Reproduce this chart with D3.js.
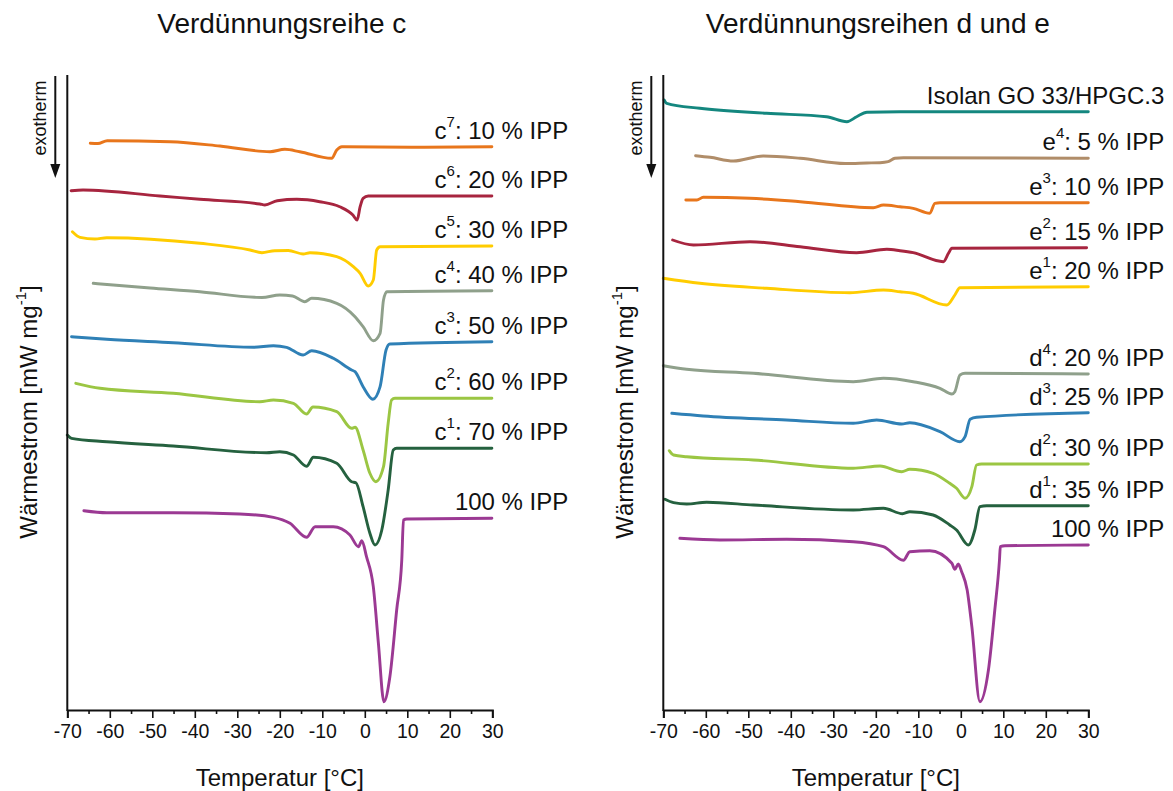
<!DOCTYPE html>
<html>
<head>
<meta charset="utf-8">
<script src="https://cdn.jsdelivr.net/npm/d3@7/dist/d3.min.js"></script>
<style>
  body { margin: 0; background: #fff; }
  svg { display: block; }
  text { font-family: "Liberation Sans", Arial, Helvetica, sans-serif; fill: #111; }
</style>
</head>
<body>
<svg id="chart" width="1173" height="791"></svg>
<script>
// ---- Axis ticks -----------------------------------------------------------
const xTicks = [-70, -60, -50, -40, -30, -20, -10, 0, 10, 20, 30];
const xMinorTicks = [-65, -55, -45, -35, -25, -15, -5, 5, 15, 25];

// ---- DSC heating curves: [Temperatur °C, vertically shifted heat flow, a.u.] ----
// Verdünnungsreihe c
const c7 = [[-64.6,566.7],[-62.8,566.5],[-60.6,569.3],[-45.8,568.3],[-34.1,564],[-22.3,558.3],[-18.8,560.7],[-15.3,558.3],[-7.8,551.7],[-6.6,560],[-5.4,563.3],[11.5,562.7],[29.9,563.3]];
const c6 = [[-69.1,519.3],[-66.3,520],[-48.2,514],[-38.8,510.7],[-24.7,506],[-23.5,505],[-20.6,509.3],[-16,510.7],[-10.6,508.3],[-5.9,503.3],[-2.8,495],[-1.8,490],[-1.1,503.3],[-0.4,511.7],[0.8,514],[29.9,514]];
const c5 = [[-68.8,478.3],[-67,472.7],[-63.5,471],[-60.7,472.3],[-38.8,466.7],[-27,460],[-24.2,457.3],[-21.2,459.3],[-18,459.5],[-14.5,456],[-12.9,457.3],[-6.6,453.3],[-2.7,443.3],[-1.1,436.7],[0.8,424],[2,430],[2.8,460],[3.6,463.3],[29.9,464]];
const c4 = [[-63.9,426.7],[-50.5,422],[-38.8,418.3],[-25.9,412.7],[-24.2,412.5],[-20,415],[-17,414],[-14.1,408.3],[-12.5,411.7],[-6.6,406.7],[-2.3,393.3],[-0.4,383.3],[2,369.3],[3.6,376.7],[4.4,410],[5.2,418.3],[29.9,419.3]];
const c3 = [[-69,373.3],[-60.7,370.7],[-45.1,367.3],[-26.2,362.7],[-21.5,364.3],[-18.4,362.7],[-14.5,355],[-12.5,359.3],[-7.4,351.7],[-3.1,340],[-2.3,338.3],[-0.4,323.3],[1.9,310.7],[3.6,323.3],[5,360],[5.9,366],[29.9,368.3]];
const c2 = [[-68,326.7],[-62.3,321.7],[-45.1,316.7],[-24.7,308.3],[-21.5,310],[-16.8,306.7],[-13.7,296],[-12.2,303],[-6.6,298.3],[-3.1,281.7],[-2.3,282.7],[-0.4,260],[1.2,236.7],[2.6,228.3],[4.4,243.3],[5.5,286.7],[6.3,310],[7.1,311.7],[29.9,311.7]];
const c1 = [[-70,275],[-69,271.7],[-60.7,268.3],[-45.1,264],[-23.1,257.3],[-20,258.3],[-16.8,255],[-13.7,243.7],[-12.1,252.7],[-6.6,246.7],[-3.1,228.3],[-2.1,227.3],[-0.4,203.3],[1.2,176.7],[2.4,165],[4,180],[5.5,220],[6.7,260],[7.5,261.7],[29.9,261.7]];
const ipp100c = [[-66.1,199.3],[-60.7,197.3],[-45.1,197.3],[-29.4,196],[-21.5,192.7],[-17.6,186.7],[-13.7,172.7],[-11.7,183.3],[-7.4,183.3],[-3.5,175],[-1.5,163.3],[-0.7,169.3],[0.4,153.3],[2,123.3],[3.2,66.7],[4.5,8.3],[5.9,33.3],[7.5,100],[8.7,150],[9.1,190],[9.9,191],[29.9,191.7]];

// Verdünnungsreihen d und e
const isolan = [[-69.8,610],[-69.2,606.7],[-61.4,601.7],[-45.7,596.7],[-31.6,593.3],[-26.8,588.3],[-24.5,593.3],[-22.1,597.7],[-14.3,598.3],[30,598.3]];
const e4 = [[-62.4,554.3],[-59,552.7],[-53.5,549],[-46.5,554],[-37.8,551.7],[-27.2,546.5],[-22.1,547],[-19,547.3],[-17.1,548.3],[-15.5,551.7],[-13.5,552.3],[30,551.7]];
const e3 = [[-64.7,510],[-62.1,510],[-60.6,512.7],[-49.6,511.7],[-37.8,508.3],[-20.6,502.3],[-18.2,505],[-14.3,503.3],[-11.2,501.7],[-7.3,496.7],[-6.1,506.7],[-4.9,507.3],[30,507.3]];
const e2 = [[-67.8,470],[-62.9,465],[-49.6,468.3],[-37.8,463.3],[-24.5,457.3],[-17.4,460.7],[-14.3,459.3],[-11.2,457.3],[-4.1,448.3],[-2.9,456.7],[-2.1,461.7],[29.6,462.3]];
const e1 = [[-70,431.7],[-61.4,426.7],[-45.7,421.7],[-26.1,417.3],[-18.2,420],[-14.3,418.3],[-11.2,416.7],[-3.3,405],[-1.4,415],[-0.2,422.3],[30,423.3]];
const dd4 = [[-70,344.3],[-64.5,340.7],[-48.8,336.7],[-25.3,328.3],[-18.2,331.7],[-11.2,328.3],[-4.9,321.7],[-2.1,316],[-1.4,318.3],[-0.2,335],[1,336.7],[30,336]];
const dd3 = [[-68,296.7],[-60.6,294],[-41,290],[-25.3,286.7],[-19.8,290],[-13.9,286],[-12,287.3],[-4.9,278.3],[-0.2,268.3],[1,273.3],[2.2,290.7],[3.7,292.7],[30,297.3]];
const dd2 = [[-68.6,259.3],[-67.6,255],[-64.5,253.3],[-48.8,250],[-25.3,241.7],[-19,244],[-13.9,238.3],[-12,240.7],[-6.5,236.7],[-2.6,226.7],[-1,221.7],[1,211.7],[2.6,223.3],[3.7,245],[4.9,246],[30,246]];
const dd1 = [[-69.6,210.7],[-67.6,207.3],[-64.5,206],[-59.8,207.7],[-48.8,205],[-25.3,200],[-18.2,201.7],[-13.7,196.3],[-12,198.3],[-6.5,195],[-2.6,185],[-1,180],[1.8,165],[3.3,180],[4.5,203.3],[6.1,204.3],[30,204.3]];
const ipp100de = [[-66.1,171.7],[-56.7,170],[-41,170.7],[-25.3,168.3],[-18.2,163.3],[-13.5,149.7],[-12,158.3],[-7.3,159.3],[-2.1,146.7],[-1.4,140.7],[-0.6,146],[0.2,138.3],[1.5,120],[2.6,83.3],[4.5,8.3],[6.5,40],[8,100],[9.1,150],[9.3,163.3],[10.4,164.3],[30,165]];

// ---- Series labels ---------------------------------------------------------
const namesC = ["c", "c", "c", "c", "c", "c", "c", ""];
const supsC = ["7", "6", "5", "4", "3", "2", "1", ""];
const textsC = [": 10 % IPP", ": 20 % IPP", ": 30 % IPP", ": 40 % IPP", ": 50 % IPP", ": 60 % IPP", ": 70 % IPP", "100 % IPP"];
const namesDE = ["", "e", "e", "e", "e", "d", "d", "d", "d", ""];
const supsDE = ["", "4", "3", "2", "1", "4", "3", "2", "1", ""];
const textsDE = ["Isolan GO 33/HPGC.3", ": 5 % IPP", ": 10 % IPP", ": 15 % IPP", ": 20 % IPP", ": 20 % IPP", ": 25 % IPP", ": 30 % IPP", ": 35 % IPP", "100 % IPP"];

// ---- Colours ---------------------------------------------------------------
const orange = "#E8761C", wine = "#A7253F", yellow = "#FFCC00", sage = "#8FA08B",
      blue = "#2F80B6", lime = "#9BC643", forest = "#25613F", violet = "#9B3993",
      teal = "#14877F", tan = "#B08D69";

const panelC = {
  title: "Verdünnungsreihe c",
  curves: [c7, c6, c5, c4, c3, c2, c1, ipp100c],
  colors: [orange, wine, yellow, sage, blue, lime, forest, violet],
  names: namesC, sups: supsC, texts: textsC
};
const panelDE = {
  title: "Verdünnungsreihen d und e",
  curves: [isolan, e4, e3, e2, e1, dd4, dd3, dd2, dd1, ipp100de],
  colors: [teal, tan, orange, wine, yellow, sage, blue, lime, forest, violet],
  names: namesDE, sups: supsDE, texts: textsDE
};

const svg = d3.select("#chart");

// Vertical scale shared by both panels (heat flow, arbitrary offset units)
const plotTop = 75, plotBottom = 710;
const y = d3.scaleLinear().domain([0, 635]).range([plotBottom, plotTop]);

function drawPanel(panel, left, right) {
  const g = svg.append("g");
  const x = d3.scaleLinear().domain([-70, 30]).range([left, right]);

  // title
  g.append("text")
    .attr("x", (left + right) / 2 + 2)
    .attr("y", 33)
    .attr("text-anchor", "middle")
    .style("font-size", "28px")
    .text(panel.title);

  // curves
  const line = d3.line()
    .x(d => x(d[0]))
    .y(d => y(d[1]))
    .curve(d3.curveMonotoneX);

  panel.curves.forEach((data, i) => {
    g.append("path")
      .datum(data)
      .attr("d", line)
      .attr("fill", "none")
      .attr("stroke", panel.colors[i])
      .attr("stroke-width", 2.9)
      .attr("stroke-linejoin", "round")
      .attr("stroke-linecap", "round");

    // label sits just above the right-hand end of its curve
    const last = data[data.length - 1];
    const t = g.append("text")
      .attr("x", right + 76)
      .attr("y", y(last[1]) - 8)
      .attr("text-anchor", "end")
      .style("font-size", "24px");
    if (panel.names[i]) {
      t.append("tspan").text(panel.names[i]);
      t.append("tspan").attr("dy", -12).style("font-size", "15px").text(panel.sups[i]);
      t.append("tspan").attr("dy", 12).text(panel.texts[i]);
    } else {
      t.append("tspan").text(panel.texts[i]);
    }
  });

  // x axis
  const xAxis = d3.axisBottom(x).tickValues(xTicks).tickSize(8).tickPadding(6).tickFormat(d3.format("d"));
  const ax = g.append("g").attr("transform", `translate(0,${plotBottom})`).call(xAxis);
  ax.select(".domain").attr("stroke", "#111").attr("stroke-width", 2);
  ax.selectAll(".tick line").attr("stroke", "#111").attr("stroke-width", 1.6);
  ax.selectAll(".tick text")
    .attr("fill", "#111")
    .style("font-size", "19.5px")
    .style("font-family", '"Liberation Sans", Arial, sans-serif')
    .text(d => d < 0 ? "-" + Math.abs(d) : d);
  const minor = d3.axisBottom(x).tickValues(xMinorTicks).tickSize(4).tickFormat("");
  const mx = g.append("g").attr("transform", `translate(0,${plotBottom})`).call(minor);
  mx.select(".domain").remove();
  mx.selectAll(".tick line").attr("stroke", "#111").attr("stroke-width", 1.6);

  // y axis line (no ticks: arbitrary heat flow offsets)
  g.append("line")
    .attr("x1", left).attr("x2", left)
    .attr("y1", plotTop).attr("y2", plotBottom + 1)
    .attr("stroke", "#111").attr("stroke-width", 2);

  // axis titles
  g.append("text")
    .attr("x", (left + right) / 2)
    .attr("y", 786)
    .attr("text-anchor", "middle")
    .style("font-size", "24px")
    .text("Temperatur [°C]");

  const yl = g.append("text")
    .attr("transform", `translate(${left - 30},412) rotate(-90)`)
    .attr("text-anchor", "middle")
    .style("font-size", "24px");
  yl.append("tspan").text("Wärmestrom [mW mg");
  yl.append("tspan").attr("dy", -11).style("font-size", "15px").text("-1");
  yl.append("tspan").attr("dy", 11).text("]");

  // exotherm direction marker
  const ax0 = left - 12;
  g.append("line")
    .attr("x1", ax0).attr("x2", ax0)
    .attr("y1", plotTop + 1).attr("y2", 166)
    .attr("stroke", "#111").attr("stroke-width", 2);
  g.append("path")
    .attr("d", d3.line()([[ax0 - 5, 164], [ax0 + 5, 164], [ax0, 178]]) + "Z")
    .attr("fill", "#111");
  g.append("text")
    .attr("transform", `translate(${left - 21},118) rotate(-90)`)
    .attr("text-anchor", "middle")
    .style("font-size", "18px")
    .text("exotherm");
}

drawPanel(panelC, 67.3, 492.3);
drawPanel(panelDE, 663.3, 1088.3);
</script>
</body>
</html>
